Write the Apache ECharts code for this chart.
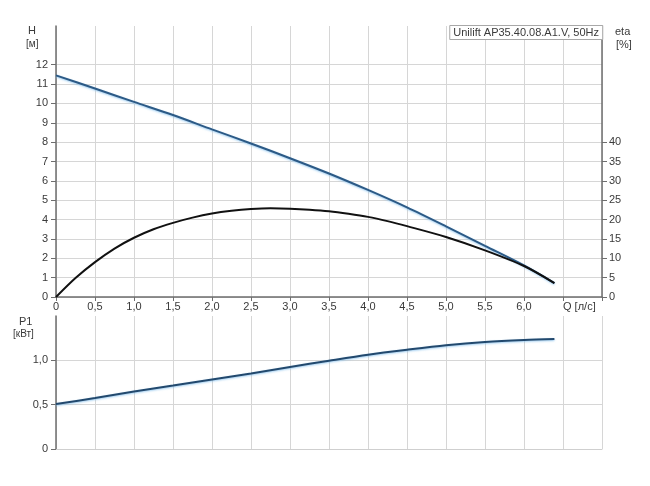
<!DOCTYPE html>
<html>
<head>
<meta charset="utf-8">
<script src="https://cdn.jsdelivr.net/npm/echarts@6/dist/echarts.min.js"></script>
<style>html,body{margin:0;padding:0;background:#fff;}#c{width:650px;height:486px;}</style>
</head>
<body>
<div id="c"></div>
<script>
// ---- data ----
const qHead = [0, 0.5, 1, 1.5, 2, 2.5, 3, 3.5, 4, 4.5, 5, 5.5, 6, 6.39];
const headValues = [11.45, 10.77, 10.08, 9.4, 8.66, 7.93, 7.17, 6.38, 5.53, 4.63, 3.65, 2.64, 1.63, 0.72];
const qEta = [0, 0.25, 0.5, 0.75, 1, 1.25, 1.5, 1.75, 2, 2.25, 2.5, 2.75, 3, 3.25, 3.5, 3.75, 4, 4.25, 4.5, 5, 5.5, 6, 6.39];
const etaValues = [0, 4.9, 9.0, 12.5, 15.3, 17.5, 19.15, 20.5, 21.55, 22.25, 22.7, 22.9, 22.8, 22.55, 22.15, 21.5, 20.7, 19.6, 18.3, 15.5, 12.05, 8.0, 3.6];
const qPower = [0, 0.5, 1, 1.5, 2, 2.5, 3, 3.5, 4, 4.5, 5, 5.5, 6, 6.39];
const powerValues = [0.507, 0.574, 0.648, 0.715, 0.785, 0.852, 0.926, 0.996, 1.063, 1.119, 1.17, 1.207, 1.23, 1.241];
const qTickLabels = [0, 0.5, 1, 1.5, 2, 2.5, 3, 3.5, 4, 4.5, 5, 5.5, 6];
const headTickLabels = [0, 1, 2, 3, 4, 5, 6, 7, 8, 9, 10, 11, 12];
const etaTickLabels = [0, 5, 10, 15, 20, 25, 30, 35, 40];
const powerTickLabels = [0, 0.5, 1];
const legendText = 'Unilift AP35.40.08.A1.V, 50Hz';

const FONT = '"Liberation Sans", Arial, sans-serif';
const axisDark = '#6e6e6e';
const gridCol = '#d6d6d6';
const txt = '#3a3a3a';
const comma1 = v => (v === 0 ? '0' : v.toFixed(1).replace('.', ','));

const pairs = (xs, ys) => xs.map((x, i) => [x, ys[i]]);

const chart = echarts.init(document.getElementById('c'), null, {renderer: 'canvas'});
const option = {
  animation: false,
  backgroundColor: '#fff',
  textStyle: {fontFamily: FONT},
  title: {
    text: legendText,
    right: 47, top: 25,
    padding: [2, 4, 2, 4],
    borderColor: '#a8a8a8', borderWidth: 1, backgroundColor: '#fff',
    textStyle: {fontSize: 11, fontWeight: 'normal', color: txt, fontFamily: FONT}
  },
  grid: [
    {left: 56, right: 48, top: 26, height: 271},
    {left: 56, right: 48, top: 316, height: 133}
  ],
  xAxis: [
    {
      type: 'value', gridIndex: 0, min: 0, max: 7, interval: 0.5,
      axisLine: {show: true, lineStyle: {color: axisDark, width: 1.5}},
      axisTick: {show: true, length: 4, lineStyle: {color: axisDark}},
      axisLabel: {customValues: qTickLabels, formatter: comma1, fontSize: 11, color: txt, margin: 4, fontFamily: FONT},
      splitLine: {show: true, lineStyle: {color: gridCol}}
    },
    {
      type: 'value', gridIndex: 1, min: 0, max: 7, interval: 0.5,
      axisLine: {show: true, lineStyle: {color: '#cfcfcf'}},
      axisTick: {show: false},
      axisLabel: {show: false},
      splitLine: {show: true, lineStyle: {color: gridCol}}
    }
  ],
  yAxis: [
    {
      type: 'value', gridIndex: 0, min: 0, max: 14, interval: 1, position: 'left',
      axisLine: {show: true, lineStyle: {color: axisDark, width: 1.5}},
      axisTick: {show: true, length: 5, customValues: headTickLabels, lineStyle: {color: axisDark}},
      axisLabel: {customValues: headTickLabels, fontSize: 11, color: txt, margin: 8, fontFamily: FONT},
      splitLine: {show: true, lineStyle: {color: gridCol}}
    },
    {
      type: 'value', gridIndex: 0, min: 0, max: 70, interval: 5, position: 'right',
      axisLine: {show: true, lineStyle: {color: axisDark, width: 1.5}},
      axisTick: {show: true, length: 5, customValues: etaTickLabels, lineStyle: {color: axisDark}},
      axisLabel: {customValues: etaTickLabels, fontSize: 11, color: txt, margin: 7, fontFamily: FONT},
      splitLine: {show: false}
    },
    {
      type: 'value', gridIndex: 1, min: 0, max: 1.5, interval: 0.5, position: 'left',
      axisLine: {show: true, lineStyle: {color: axisDark, width: 1.5}},
      axisTick: {show: true, length: 5, customValues: powerTickLabels, lineStyle: {color: axisDark}},
      axisLabel: {customValues: powerTickLabels, formatter: comma1, fontSize: 11, color: txt, margin: 8, fontFamily: FONT},
      splitLine: {show: true, lineStyle: {color: gridCol}}
    }
  ],
  graphic: [
    {type: 'text', left: 28, top: 25, style: {text: 'H', fontSize: 11, fill: txt, fontFamily: FONT}},
    {type: 'text', left: 26, top: 39, style: {text: '[м]', fontSize: 10, fill: txt, fontFamily: FONT}},
    {type: 'text', left: 615, top: 26, style: {text: 'eta', fontSize: 11, fill: txt, fontFamily: FONT}},
    {type: 'text', left: 616, top: 39, style: {text: '[%]', fontSize: 11, fill: txt, fontFamily: FONT}},
    {type: 'text', left: 19, top: 316, style: {text: 'P1', fontSize: 11, fill: txt, fontFamily: FONT}},
    {type: 'text', left: 13, top: 329, style: {text: '[кВт]', fontSize: 10, fill: txt, fontFamily: FONT}},
    {type: 'text', left: 563, top: 301, style: {text: 'Q [л/с]', fontSize: 11, fill: txt, fontFamily: FONT}}
  ],
  series: [
    {
      type: 'line', xAxisIndex: 0, yAxisIndex: 0, data: pairs(qHead, headValues),
      smooth: 0.3, showSymbol: false,
      lineStyle: {color: '#2c5a86', width: 2, shadowColor: 'rgba(120,185,235,0.7)', shadowBlur: 2, shadowOffsetY: 1}
    },
    {
      type: 'line', xAxisIndex: 0, yAxisIndex: 1, data: pairs(qEta, etaValues),
      smooth: 0.3, showSymbol: false,
      lineStyle: {color: '#111', width: 2}
    },
    {
      type: 'line', xAxisIndex: 1, yAxisIndex: 2, data: pairs(qPower, powerValues),
      smooth: 0.3, showSymbol: false,
      lineStyle: {color: '#22496e', width: 2, shadowColor: 'rgba(120,185,235,0.7)', shadowBlur: 2, shadowOffsetY: 1}
    }
  ]
};
chart.setOption(option);
</script>
</body>
</html>
